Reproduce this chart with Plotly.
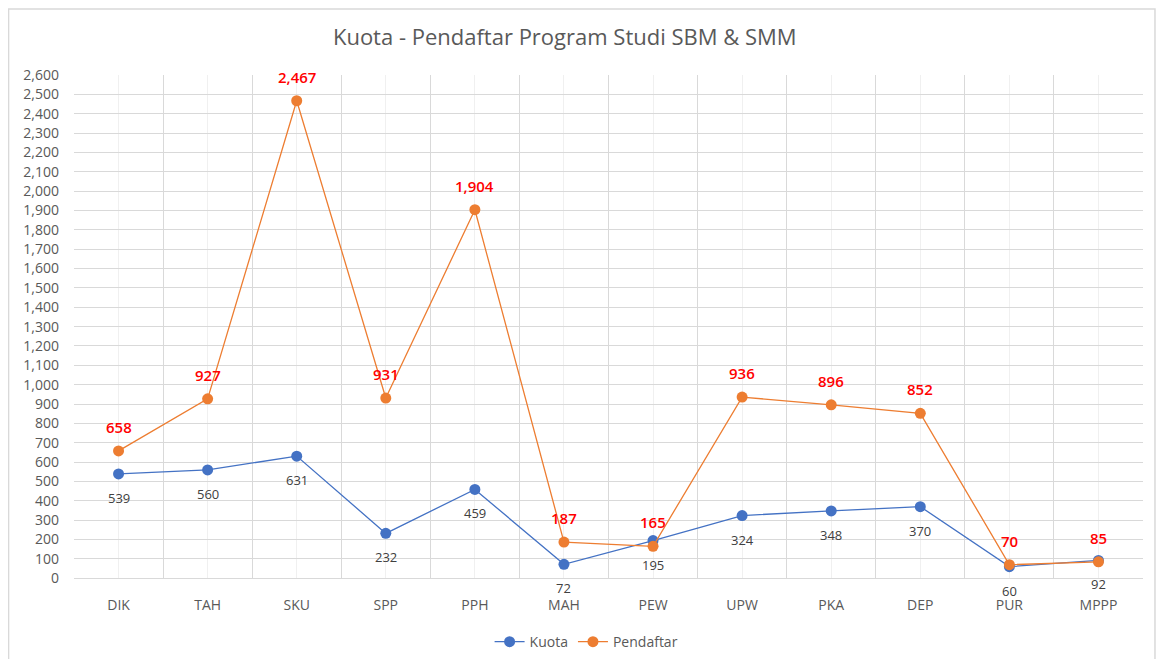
import plotly.graph_objects as go

categories = ["DIK", "TAH", "SKU", "SPP", "PPH", "MAH", "PEW", "UPW", "PKA", "DEP", "PUR", "MPPP"]
kuota = [539, 560, 631, 232, 459, 72, 195, 324, 348, 370, 60, 92]
pendaftar = [658, 927, 2467, 931, 1904, 187, 165, 936, 896, 852, 70, 85]
y_ticks = list(range(0, 2601, 100))

FONT = "Open Sans"
GRAY = "#595959"
BLUE = "#4472C4"
ORANGE = "#ED7D31"

xs = list(range(len(categories)))
boundaries = [i - 0.5 for i in range(len(categories) + 1)]

fig = go.Figure()
fig.add_trace(go.Scatter(
    x=xs, y=kuota, name="Kuota", mode="lines+markers",
    line=dict(color=BLUE, width=1.3),
    marker=dict(color=BLUE, size=11),
))
fig.add_trace(go.Scatter(
    x=xs, y=pendaftar, name="Pendaftar", mode="lines+markers",
    line=dict(color=ORANGE, width=1.3),
    marker=dict(color=ORANGE, size=11),
))

for x, v in zip(xs, kuota):
    fig.add_annotation(x=x, y=v, text=f"{v:,}", showarrow=False, yshift=-24,
                       font=dict(family=FONT, size=13, color="#404040"))
for x, v in zip(xs, pendaftar):
    fig.add_annotation(x=x, y=v, text=f"{v:,}", showarrow=False, yshift=24,
                       font=dict(family=FONT, size=15, color="#FF0000", weight=600))

fig.add_shape(type="rect", xref="paper", yref="paper", x0=-0.0612, x1=1.0112, y0=-0.3, y1=1.131,
              line=dict(color="#d9d9d9", width=1.5), layer="below")

fig.update_layout(
    width=1148, height=651,
    margin=dict(l=66, r=13, t=67, b=77),
    paper_bgcolor="white", plot_bgcolor="white",
    font=dict(family=FONT, color=GRAY),
    title=dict(text="Kuota - Pendaftar Program Studi SBM & SMM", x=0.485, xanchor="center",
               y=0.9555, yanchor="middle", font=dict(family=FONT, size=22, color=GRAY)),
    showlegend=True,
    legend=dict(orientation="h", xref="container", x=0.504, xanchor="center",
                yref="container", y=0.026, yanchor="middle",
                font=dict(family=FONT, size=14, color=GRAY)),
    xaxis=dict(
        range=[-0.5, len(categories) - 0.5],
        tickmode="array", tickvals=xs, ticktext=categories,
        showgrid=True, gridcolor="#f0f0f0", gridwidth=1,
        minor=dict(tickmode="array", tickvals=boundaries, showgrid=True, gridcolor="#d9d9d9", gridwidth=1),
        showline=True, linecolor="#d9d9d9", linewidth=1,
        zeroline=False, ticks="", ticklabelstandoff=14,
        tickfont=dict(family=FONT, size=14, color=GRAY),
    ),
    yaxis=dict(
        range=[0, 2600], tickmode="array", tickvals=y_ticks,
        tickformat=",", showgrid=True, gridcolor="#d9d9d9", gridwidth=1,
        zeroline=False, showline=False, ticks="", ticklabelstandoff=14,
        tickfont=dict(family=FONT, size=14, color=GRAY),
    ),
)

fig.write_html("out.html")
